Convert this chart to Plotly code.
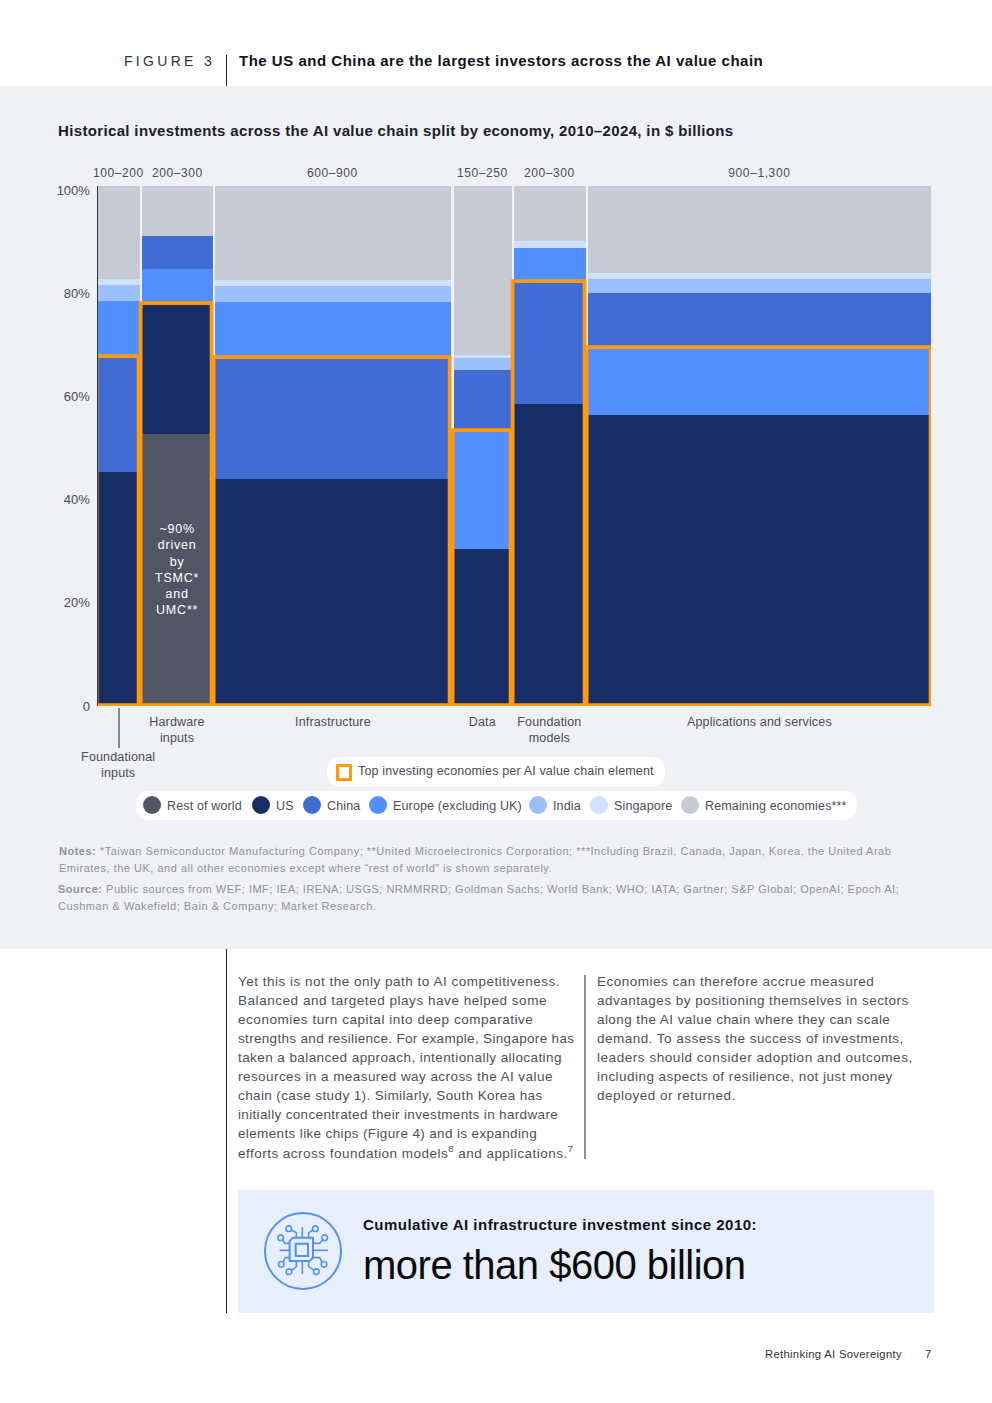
import json
import plotly.graph_objects as go

W, H = 992, 1403
FONT = "Liberation Sans"

# ---------- data ----------
elements = ["Foundational inputs", "Hardware inputs", "Infrastructure", "Data",
            "Foundation models", "Applications and services"]
element_ticks = ["Hardware<br>inputs", "Infrastructure", "Data",
                 "Foundation<br>models", "Applications and services"]
range_labels = ["100–200", "200–300", "600–900", "150–250", "200–300", "900–1,300"]
widths = [143, 243, 814, 198, 246, 1184]

rest_of_world = [None, 52.3, None, None, None, None]
us = [45.0, 25.1, 43.65, 30.2, 58.1, 56.0]
china = [22.1, 6.4, 23.25, 11.7, 23.4, 10.6]
europe = [10.8, 6.6, 10.8, 22.7, 6.6, 12.8]
india = [3.1, None, 3.1, 2.3, None, 2.7]
singapore = [1.1, None, 1.1, 0.6, 1.3, 1.2]
remaining = [17.9, 9.6, 18.1, 32.5, 10.6, 16.7]

series_names = ["Rest of world", "US", "China", "Europe (excluding UK)", "India",
                "Singapore", "Remaining economies***"]
series_values = [rest_of_world, us, china, europe, india, singapore, remaining]
series_colors = ["#525664", "#162D66", "#416CD3", "#528FFF", "#9CC0FF", "#D0E0FF", "#C5CAD5"]

# stack order, bottom to top, per element
stack_orders = [
    ["US", "China", "Europe (excluding UK)", "India", "Singapore", "Remaining economies***"],
    ["Rest of world", "US", "Europe (excluding UK)", "China", "Remaining economies***"],
    ["US", "China", "Europe (excluding UK)", "India", "Singapore", "Remaining economies***"],
    ["US", "Europe (excluding UK)", "China", "India", "Singapore", "Remaining economies***"],
    ["US", "China", "Europe (excluding UK)", "Singapore", "Remaining economies***"],
    ["US", "Europe (excluding UK)", "China", "India", "Singapore", "Remaining economies***"],
]
top_counts = [2, 2, 2, 2, 2, 2]

y_ticks = [0, 20, 40, 60, 80, 100]
y_tick_labels = ["0", "20%", "40%", "60%", "80%", "100%"]

GAP = 9.3
PAD = 0.4
lefts = []
c = PAD
for w in widths:
    lefts.append(c)
    c += w + GAP
x_max = c - GAP
centers = [l + w / 2 for l, w in zip(lefts, widths)]


def px(x):
    return x / W


def py(y):
    return 1 - y / H


values_by_name = dict(zip(series_names, series_values))
bases = {n: [None] * len(elements) for n in series_names}
box_tops = []
for i, order in enumerate(stack_orders):
    total = 0
    for k, n in enumerate(order):
        bases[n][i] = total
        total += values_by_name[n][i]
        if k == top_counts[i] - 1:
            box_tops.append(total)

fig = go.Figure()
for name, vals, col in zip(series_names, series_values, series_colors):
    fig.add_bar(x=centers, y=vals, base=bases[name], width=widths, name=name,
                marker=dict(color=col, line=dict(width=0)), showlegend=False)
fig.add_bar(x=centers, y=box_tops, base=[0] * len(elements), width=widths,
            marker=dict(color="rgba(0,0,0,0)", line=dict(color="#FF9A0D", width=3.8)),
            cliponaxis=False, showlegend=False, name="Top investing economies")

shapes = []
annotations = []
spacings = []
CHIP = "#E7EFFC"


def rect(x0, y0, x1, y1, fill, line=None, lw=0, layer="below"):
    shapes.append(dict(type="rect", xref="paper", yref="paper", x0=px(x0), x1=px(x1),
                       y0=py(y0), y1=py(y1), fillcolor=fill, layer=layer,
                       line=dict(color=line or fill, width=lw)))


def seg(x0, y0, x1, y1, col, lw=1):
    shapes.append(dict(type="line", xref="paper", yref="paper", x0=px(x0), x1=px(x1),
                       y0=py(y0), y1=py(y1), line=dict(color=col, width=lw)))


def circle(cx, cy, r, fill="rgba(0,0,0,0)", line=None, lw=0):
    shapes.append(dict(type="circle", xref="paper", yref="paper", x0=px(cx - r), x1=px(cx + r),
                       y0=py(cy - r), y1=py(cy + r), fillcolor=fill,
                       line=dict(color=line or fill, width=lw)))


def pill(x0, y0, x1, y1, r):
    P = lambda a, b: f"{px(a)},{py(b)}"
    d = (f"M {P(x0 + r, y0)} L {P(x1 - r, y0)} Q {P(x1, y0)} {P(x1, y0 + r)} "
         f"L {P(x1, y1 - r)} Q {P(x1, y1)} {P(x1 - r, y1)} L {P(x0 + r, y1)} "
         f"Q {P(x0, y1)} {P(x0, y1 - r)} L {P(x0, y0 + r)} Q {P(x0, y0)} {P(x0 + r, y0)} Z")
    shapes.append(dict(type="path", xref="paper", yref="paper", path=d, fillcolor="white",
                       layer="below", line=dict(width=0)))


def poly(pts, col, lw, closed=False, fill=None):
    d = "M " + " L ".join(f"{px(a)},{py(b)}" for a, b in pts) + (" Z" if closed else "")
    shapes.append(dict(type="path", xref="paper", yref="paper", path=d,
                       fillcolor=fill or "rgba(0,0,0,0)", line=dict(color=col, width=lw)))


def T(text, x, y, size, color="#4a4d57", anchor="left", spacing=0.0):
    annotations.append(dict(text=text, x=px(x), y=py(y), xref="paper", yref="paper",
                            xanchor=anchor, yanchor="middle", showarrow=False, align=anchor,
                            borderpad=0, borderwidth=0,
                            font=dict(family=FONT, size=size, color=color)))
    spacings.append(spacing)


# page furniture
rect(0, 86, W, 949, "#EFF1F5")
seg(226.5, 55, 226.5, 86, "#222", 1)
seg(226.5, 949, 226.5, 1313, "#222", 1)
seg(585, 975, 585, 1159, "#222", 1)
rect(238, 1190, 934, 1313, CHIP)
T("FIGURE 3", 124, 61, 14, "#333", spacing=3.3)
T("<b>The US and China are the largest investors across the AI value chain</b>", 239, 61, 15, "#10131c", spacing=0.51)
T("<b>Historical investments across the AI value chain split by economy, 2010–2024, in $ billions</b>",
  58, 130, 15, "#1c2029", spacing=0.35)

# range labels, category label with leader
for lab, cx in zip(range_labels, centers):
    annotations.append(dict(text=lab, x=cx, xref="x", y=py(173), yref="paper", showarrow=False,
                            xanchor="center", yanchor="middle",
                            font=dict(family=FONT, size=12, color="#4a4d57")))
    spacings.append(0.6)
seg(119, 708, 119, 748, "#222", 1)
annotations.append(dict(text="Foundational<br>inputs", x=centers[0], xref="x", y=py(765), yref="paper",
                        showarrow=False, xanchor="center", yanchor="middle", align="center",
                        font=dict(family=FONT, size=12.5, color="#4a4d57")))
spacings.append(0.15)
annotations.append(dict(text="~90%<br>driven<br>by<br>TSMC*<br>and<br>UMC**", x=centers[1], xref="x",
                        y=py(570), yref="paper", showarrow=False, xanchor="center", yanchor="middle",
                        align="center", font=dict(family=FONT, size=12.5, color="white")))
spacings.append(0.8)

# legends
pill(327, 757, 665, 787, 15)
pill(136, 791, 857, 820, 14.5)
rect(337.5, 765.5, 350.5, 779.5, "white", "#FF9A0D", 3, layer="above")
T("Top investing economies per AI value chain element", 358, 771.5, 12.5, spacing=0.16)
legend_cx = [152, 261, 312, 378, 538, 599, 690]
for name, col, cx in zip(series_names, series_colors, legend_cx):
    circle(cx, 805, 9, col)
    T(name, cx + 15, 805.5, 12.5, spacing=0.15)

# notes
NC = "#8f9299"
T("<b>Notes:</b> *Taiwan Semiconductor Manufacturing Company; **United Microelectronics Corporation; "
  "***Including Brazil, Canada, Japan, Korea, the United Arab", 59, 851, 11, NC, spacing=0.51)
T("Emirates, the UK, and all other economies except where “rest of world” is shown separately.", 59, 868, 11, NC, spacing=0.51)
T("<b>Source:</b> Public sources from WEF; IMF; IEA; IRENA; USGS; NRMMRRD; Goldman Sachs; World Bank; WHO; "
  "IATA; Gartner; S&P Global; OpenAI; Epoch AI;", 58, 889, 11, NC, spacing=0.505)
T("Cushman & Wakefield; Bain & Company; Market Research.", 58, 906, 11, NC, spacing=0.54)

# body text
BC = "#4d5058"
col1 = ["Yet this is not the only path to AI competitiveness.",
        "Balanced and targeted plays have helped some",
        "economies turn capital into deep comparative",
        "strengths and resilience. For example, Singapore has",
        "taken a balanced approach, intentionally allocating",
        "resources in a measured way across the AI value",
        "chain (case study 1). Similarly, South Korea has",
        "initially concentrated their investments in hardware",
        "elements like chips (Figure 4) and is expanding",
        "efforts across foundation models<sup>8</sup> and applications.<sup>7</sup>"]
col2 = ["Economies can therefore accrue measured",
        "advantages by positioning themselves in sectors",
        "along the AI value chain where they can scale",
        "demand. To assess the success of investments,",
        "leaders should consider adoption and outcomes,",
        "including aspects of resilience, not just money",
        "deployed or returned."]
col1_track = [0.5, 0.54, 0.54, 0.32, 0.42, 0.44, 0.38, 0.34, 0.36, 0.48]
col2_track = [0.49, 0.47, 0.43, 0.47, 0.55, 0.45, 0.49]
for i, line in enumerate(col1):
    nudge = -1 if i == len(col1) - 1 else 0
    T(line, 238, 981 + 19.1 * i + nudge, 13.5, BC, spacing=col1_track[i])
for i, line in enumerate(col2):
    T(line, 597, 981 + 19.1 * i, 13.5, BC, spacing=col2_track[i])

# callout
T("<b>Cumulative AI infrastructure investment since 2010:</b>", 363, 1224, 15, "#10131c", spacing=0.48)
T("more than $600 billion", 363, 1265, 40, "#0a0a0a", spacing=-0.5)

# chip icon
IC = "#5591EE"
X = lambda a: 258 + a / 3
Y = lambda b: 1206 + b / 3
circle(303, 1251, 38, line=IC, lw=2)
for pts in [[(133, 63), (133, 95)], [(133, 165), (133, 205)], [(65, 133), (95, 133)], [(165, 133), (210, 133)],
            [(115, 95), (115, 80), (100, 72)], [(152, 95), (152, 80), (165, 72)],
            [(95, 112), (80, 112), (74, 100)], [(165, 112), (185, 112), (195, 100)],
            [(95, 155), (82, 155), (74, 170)], [(165, 155), (185, 155), (193, 170)],
            [(115, 165), (115, 182), (100, 193)], [(152, 165), (152, 182), (168, 193)]]:
    poly([(X(a), Y(b)) for a, b in pts], IC, 1.6)
poly([(X(a), Y(b)) for a, b in [(105, 95), (165, 95), (165, 155), (155, 165), (95, 165), (95, 105)]],
     IC, 2, closed=True, fill=CHIP)
rect(X(113), Y(113), X(150), Y(150), CHIP, IC, 2, layer="above")
for a, b in [(92, 68), (172, 68), (68, 95), (200, 95), (70, 175), (198, 175), (93, 197), (175, 197)]:
    circle(X(a), Y(b), 2.8, CHIP, IC, 1.6)

# footer
T("Rethinking AI Sovereignty", 765, 1354, 11.3, "#333", spacing=0.3)
T("7", 925, 1354, 11.3, "#333")

fig.update_layout(
    width=W, height=H, autosize=False, margin=dict(l=0, r=0, t=0, b=0, pad=0),
    paper_bgcolor="white", plot_bgcolor="rgba(0,0,0,0)", barmode="overlay", bargap=0,
    font=dict(family=FONT, color="#4a4d57"), shapes=shapes, annotations=annotations,
    xaxis=dict(domain=[px(97.5), px(931)], range=[0, x_max], showgrid=False, zeroline=False,
               showline=False, ticks="", tickvals=centers[1:], ticktext=element_ticks, automargin=False,
               tickfont=dict(family=FONT, size=12.5, color="#4a4d57"), ticklabelstandoff=6),
    yaxis=dict(domain=[py(706), py(186)], range=[0, 100], showgrid=False, zeroline=False,
               showline=True, linecolor="#333", linewidth=1, ticks="", automargin=False,
               tickvals=[t * 0.992 for t in y_ticks], ticktext=y_tick_labels,
               tickfont=dict(family=FONT, size=13, color="#4a4d57"), ticklabelstandoff=4),
)

post = """
document.body.style.margin='0';
var sp = %s;
function applySpacing() {
  document.querySelectorAll('.annotation').forEach(function (g) {
    var i = +g.getAttribute('data-index');
    var t = g.querySelector('text');
    if (t && sp[i]) t.style.letterSpacing = sp[i] + 'px';
  });
  document.querySelectorAll('.xtick text').forEach(function (t) { t.style.letterSpacing = '0.15px'; });
}
applySpacing();
setTimeout(applySpacing, 50);
""" % json.dumps(spacings)

fig.write_html("out.html", post_script=post, config={"displayModeBar": False})
